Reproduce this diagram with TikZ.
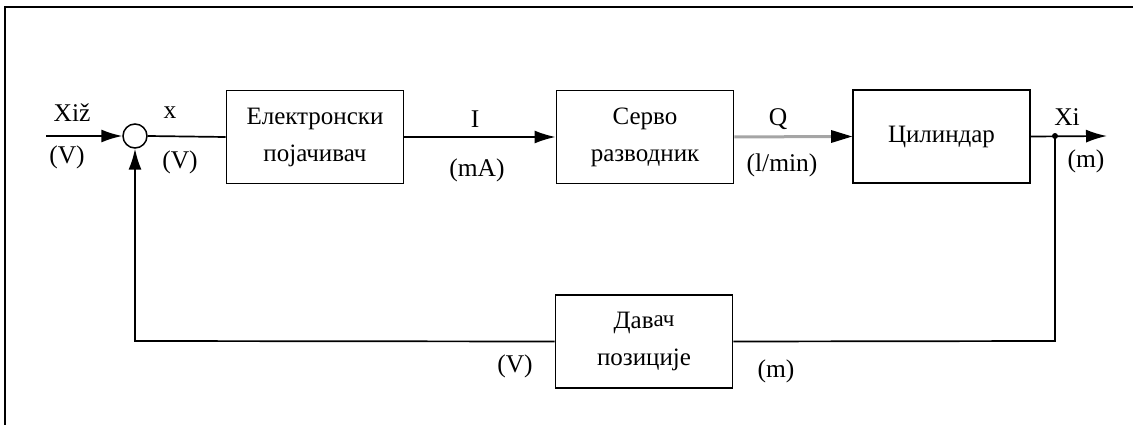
\documentclass[tikz,border=0pt]{standalone}
\usepackage{fontspec}
\setmainfont{Liberation Serif}
\usetikzlibrary{arrows.meta}
\definecolor{flowgray}{RGB}{165,165,165}
\tikzset{
  blk/.style={draw, line width=1.8pt, minimum width=177pt, minimum height=93pt, inner sep=0pt, align=center, font=\fontsize{25}{37}\selectfont},
  lbl/.style={inner sep=0pt, font=\fontsize{25.5}{28}\selectfont},
  sig/.style={line width=1.7pt},
  tip/.style={-{Latex[length=21pt,width=13pt]}},
}
\begin{document}
\begin{tikzpicture}[x=1pt,y=-1pt]
\useasboundingbox (0,0) rectangle (1133,425);
% outer frame (top and left edges)
\draw[line width=2.2pt] (1133,7) -- (5,7) -- (5,425);

% summing junction
\node[draw, circle, line width=1.5pt, minimum size=24pt, inner sep=0pt] (sum) at (135,136) {};

% blocks
\node[blk] (amp) at (315,137) {Електронски\\појачивач};
\node[blk] (servo) at (645,137) {Серво\\разводник};
\node[blk] (cyl) at (941.5,136.5) {Цилиндар};
\node[blk] (sens) at (644,341.5) {Дав\raisebox{2pt}{\fontsize{23}{23}\selectfont ач}\\позиције};

% input and output coordinates
\coordinate (in) at (46,136);
\coordinate (out) at (1107,136);
\coordinate (tap) at (1055,136);
\coordinate (fbR) at (1055,341);
\coordinate (fbL) at (135,341);

% forward path
\draw[sig, tip] (in) -- (sum.west);
\draw[sig] (sum.east) -- (amp.west);
\draw[sig, tip] (amp.east) -- (servo.west);
\draw[line width=3pt, color=flowgray] (servo.east) -- ([xshift=-18pt]cyl.west);
\fill[black] ([xshift=-21pt,yshift=-6.5pt]cyl.west) -- (cyl.west) -- ([xshift=-21pt,yshift=6.5pt]cyl.west) -- cycle;
\draw[sig, tip] (cyl.east) -- (out);
\fill (tap) circle (3pt);

% feedback path
\draw[sig] (tap) -- (fbR) -- (sens.east);
\draw[sig, tip] (sens.west) -- (fbL) -- (sum.south);

% signal labels
\node[lbl] (l1) at (72,113) {Xiž};
\node[lbl] (l2) at (67,157) {(V)};
\node[lbl] (l3) at (170,113) {x};
\node[lbl] (l4) at (180,162) {(V)};
\node[lbl] (l5) at (475,119) {I};
\node[lbl] (l6) at (477,170) {(mA)};
\node[lbl] (l7) at (778,119) {Q};
\node[lbl] (l8) at (782,165) {(l/min)};
\node[lbl] (l9) at (1067,117) {Xi};
\node[lbl] (l10) at (1086,161) {(m)};
\node[lbl] (l11) at (515,366) {(V)};
\node[lbl] (l12) at (776,371) {(m)};
\end{tikzpicture}
\end{document}
